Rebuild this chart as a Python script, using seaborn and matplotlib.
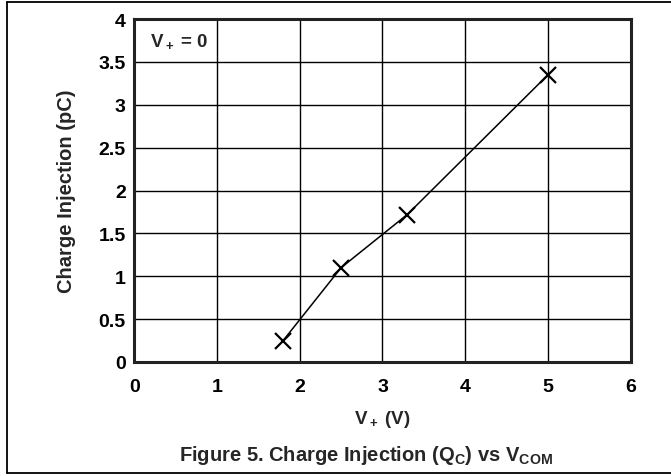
import numpy as np
import pandas as pd
import matplotlib
matplotlib.use("Agg")
import matplotlib.pyplot as plt
import seaborn as sns
from matplotlib.lines import Line2D

# data
v_plus = [1.8, 2.5, 3.3, 5.0]
charge_pc = [0.25, 1.1, 1.72, 3.35]
x_ticks = [0, 1, 2, 3, 4, 5, 6]
y_ticks = [0, 0.5, 1, 1.5, 2, 2.5, 3, 3.5, 4]
y_tick_labels = ["0", "0.5", "1", "1.5", "2", "2.5", "3", "3.5", "4"]

df = pd.DataFrame({"v": v_plus, "q": charge_pc})

sns.set_theme(style="white")
plt.rcParams["font.family"] = ["Liberation Sans", "DejaVu Sans"]
plt.rcParams["font.weight"] = "bold"
plt.rcParams["mathtext.fontset"] = "custom"
plt.rcParams["mathtext.rm"] = "Liberation Sans:bold"
plt.rcParams["mathtext.it"] = "Liberation Sans:bold"
plt.rcParams["mathtext.bf"] = "Liberation Sans:bold"
plt.rcParams["mathtext.default"] = "rm"

fig = plt.figure(figsize=(6.71, 4.77), dpi=100)
ax = fig.add_axes([0.2, 0.239, 0.74, 0.719])

sns.lineplot(data=df, x="v", y="q", ax=ax, color="black", linewidth=1.1,
             marker="x", markersize=11, markeredgewidth=1.6,
             markeredgecolor="black")

ax.set_xlim(0, 6)
ax.set_ylim(0, 4)
ax.set_xticks(x_ticks)
ax.set_yticks(y_ticks)
ax.set_yticklabels(y_tick_labels)
ax.grid(True, color="black", linewidth=1.0)
for s in ax.spines.values():
    s.set_color("#222222")
    s.set_linewidth(2.2)
ax.tick_params(axis="y", length=0, pad=6, labelsize=14, colors="black")
ax.tick_params(axis="x", length=0, pad=11.5, labelsize=14, colors="black")
for lab in ax.get_xticklabels() + ax.get_yticklabels():
    lab.set_fontweight("bold")

ax.set_xlabel("V$_+$ (V)", fontsize=13.5, fontweight="bold")
ax.set_ylabel("Charge Injection (pC)", fontsize=14.5, fontweight="bold")
ax.xaxis.set_label_coords(0.5, -0.134)
ax.yaxis.set_label_coords(-0.118, 0.5)

ax.text(0.193, 3.70, "V$_+$ = 0", fontsize=13.5, fontweight="bold",
        ha="left", va="baseline")

fig.text(0.545, 0.0335, "Figure 5. Charge Injection (Q$_C$) vs V$_{COM}$",
         fontsize=14.5, fontweight="bold", ha="center", va="baseline")

# outer frame lines
fig.add_artist(Line2D([0.0104, 1.0], [0.9937, 0.9937], color="black", lw=1.3))
fig.add_artist(Line2D([0.0104, 1.0], [0.0063, 0.0063], color="black", lw=1.3))
fig.add_artist(Line2D([0.0104, 0.0104], [0.0063, 0.9937], color="black", lw=1.3))

fig.savefig("out.png", dpi=100)
